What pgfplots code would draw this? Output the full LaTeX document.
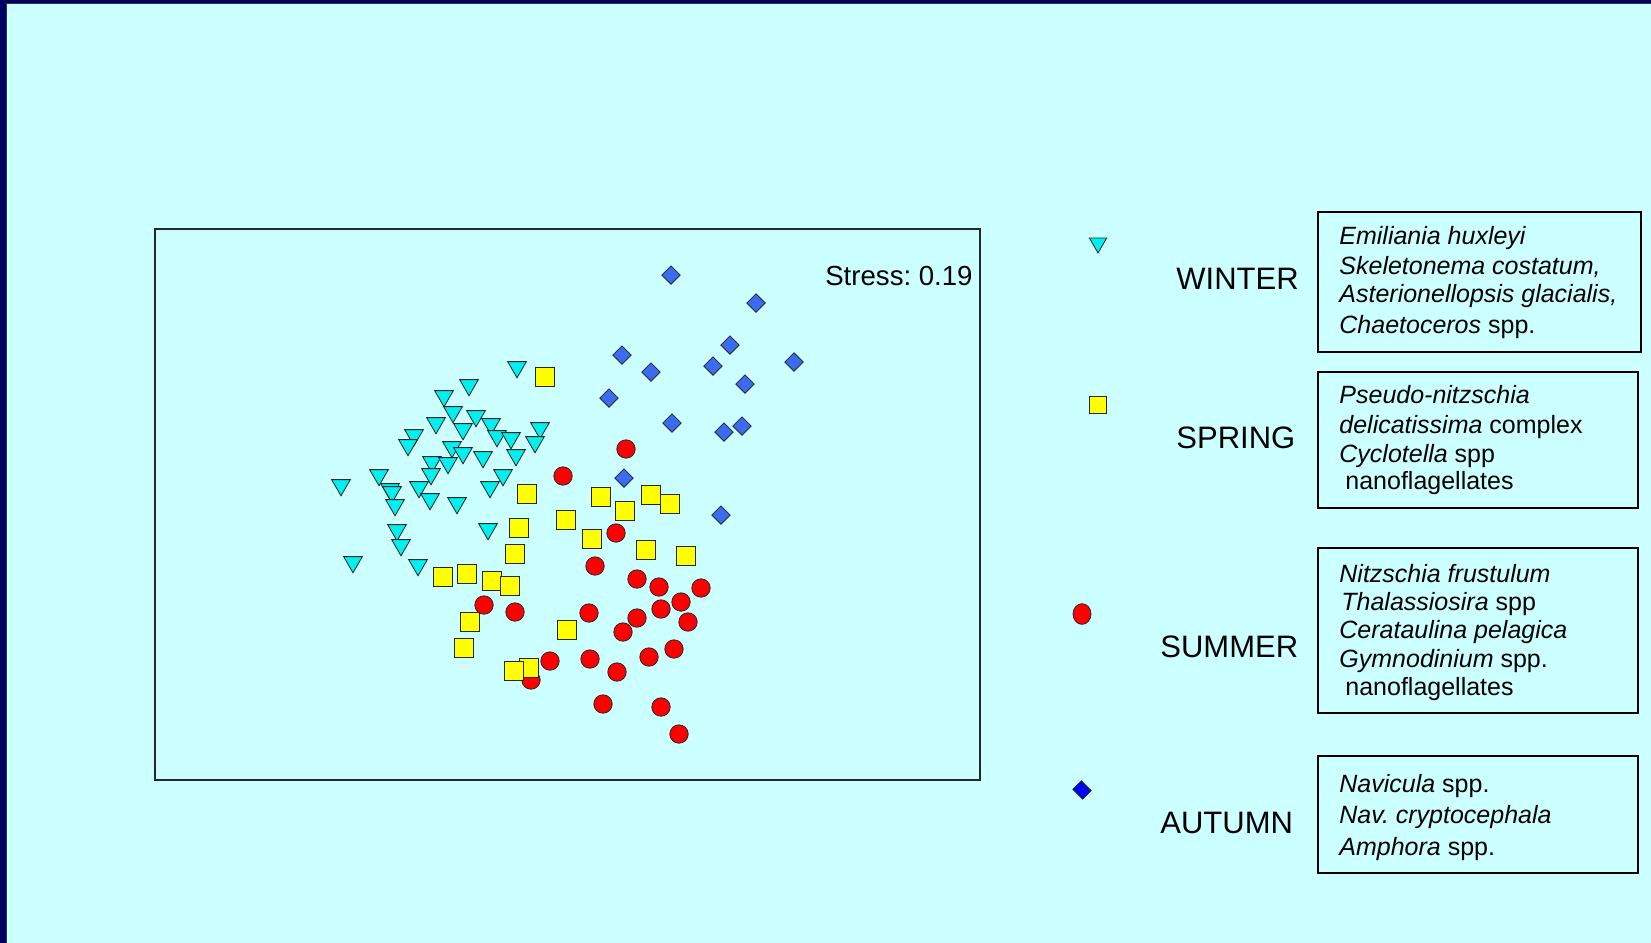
\documentclass[border=0pt]{standalone}
\usepackage{pgfplots}
\pgfplotsset{compat=1.18}
\usepackage{fontspec}
\setmainfont{Liberation Sans}
\frenchspacing

\definecolor{bgcyan}{RGB}{204,255,255}
\definecolor{navy}{RGB}{0,0,100}
\definecolor{wint}{RGB}{0,240,240}
\definecolor{spri}{RGB}{255,255,0}
\definecolor{summ}{RGB}{255,0,0}
\definecolor{autu}{RGB}{58,107,240}
\definecolor{autuleg}{RGB}{0,0,255}

% MDS ordination scores, one table per season (screen units, y downwards)
\pgfplotstableread{
x y
517 367
469 385
444 396
453 412
476 416
436 423
491 424
463 429
414 435
497 436
511 438
540 428
535 442
408 445
452 447
463 453
483 457
516 455
432 462
448 463
431 474
379 475
503 475
341 485
390 489
392 492
419 487
490 487
395 505
430 499
457 503
488 529
397 530
401 545
353 562
418 565
}\winter

\pgfplotstableread{
x y
545 377
527 494
601 497
651 495
670 504
625 511
566 520
519 528
592 539
646 550
686 556
515 554
443 577
467 574
492 581
510 586
470 622
567 630
464 648
529 668
514 671
}\spring

\pgfplotstableread{
x y
626 449
563 476
616 533
595 566
637 579
659 587
701 588
681 602
661 609
637 618
688 622
484 605
515 612
589 613
623 632
674 649
649 657
590 659
550 661
617 672
531 680
603 704
661 707
679 734
}\summer

\pgfplotstableread{
x y
671 275
756 303
730 345
622 355
651 372
713 366
794 362
745 384
609 398
672 423
724 432
742 426
624 478
721 515
}\autumn

\begin{document}
\begin{tikzpicture}
\useasboundingbox (0,0) rectangle (825.5pt,-471.5pt);
% slide background with dark frame at top and left
\fill[navy] (0,0) rectangle (825.5pt,-471.5pt);
\fill[black!80] (3pt,-1.5pt) rectangle (825.5pt,-471.5pt);
\fill[bgcyan] (3.5pt,-2pt) rectangle (825.5pt,-471.5pt);

% ordination plot
\begin{axis}[
  at={(77.5pt,-114.5pt)}, anchor=north west,
  scale only axis, width=412.5pt, height=275.5pt,
  xmin=155, xmax=980, ymin=229, ymax=780, y dir=reverse,
  xtick=\empty, ytick=\empty,
  axis line style={black!85, line width=0.7pt},
  only marks,
]
\addplot[mark=triangle*, mark size=5.4pt,
  mark options={rotate=180, fill=wint, draw=black!85, line width=0.4pt}]
  table {\winter};
\addplot[mark=*, mark size=4.6pt,
  mark options={fill=summ, draw=black!85, line width=0.4pt}]
  table {\summer};
\addplot[mark=square*, mark size=4.6pt,
  mark options={fill=spri, draw=black!85, line width=0.4pt}]
  table {\spring};
\addplot[mark=square*, mark size=3.25pt,
  mark options={rotate=45, fill=autu, draw=black!85, line width=0.4pt}]
  table {\autumn};
\node[anchor=base east, inner sep=0pt, font=\fontsize{13.8}{16}\selectfont]
  at (axis cs:973,285) {Stress: 0.19};
\end{axis}

% key: season symbols, names and characteristic taxa
\begin{axis}[
  at={(0pt,0pt)}, anchor=north west,
  scale only axis, width=825.5pt, height=471.5pt,
  xmin=0, xmax=1651, ymin=0, ymax=943, y dir=reverse,
  hide axis, clip=false, only marks,
]
\addplot[mark=triangle*, mark size=5pt,
  mark options={rotate=180, fill=wint, draw=black!85, line width=0.4pt}]
  coordinates {(1098,243)};
\addplot[mark=square*, mark size=4.3pt,
  mark options={fill=spri, draw=black!85, line width=0.4pt}]
  coordinates {(1098,405)};
\addplot[mark=*, mark size=4.5pt,
  mark options={fill=summ, draw=black!85, line width=0.4pt, yscale=1.15}]
  coordinates {(1082,614)};
\addplot[mark=square*, mark size=3.0pt,
  mark options={rotate=45, fill=autuleg, draw=black!85, line width=0.4pt, yscale=1.15}]
  coordinates {(1082,790)};

\begin{scope}[every node/.style={anchor=base west, inner sep=0pt,
    font=\fontsize{15.5}{18}\selectfont}]
\node at (axis cs:1176,289) {WINTER};
\node at (axis cs:1176,448) {SPRING};
\node at (axis cs:1160,657) {SUMMER};
\node at (axis cs:1160,833) {AUTUMN};
\end{scope}

\begin{scope}[black, line width=0.8pt]
\draw (axis cs:1318,212) rectangle (axis cs:1641,352);
\draw (axis cs:1318,372) rectangle (axis cs:1638,508);
\draw (axis cs:1318,548) rectangle (axis cs:1638,713);
\draw (axis cs:1318,756) rectangle (axis cs:1638,873);
\end{scope}

\begin{scope}[every node/.style={anchor=base west, inner sep=0pt,
    font=\fontsize{12.5}{15}\selectfont}]
\node at (axis cs:1339,244) {\textit{Emiliania huxleyi}};
\node at (axis cs:1339,274) {\textit{Skeletonema costatum,}};
\node at (axis cs:1339,302) {\textit{Asterionellopsis glacialis,}};
\node at (axis cs:1339,333) {\textit{Chaetoceros} spp.};

\node at (axis cs:1339,403) {\textit{Pseudo-nitzschia}};
\node at (axis cs:1339,433) {\textit{delicatissima} complex};
\node at (axis cs:1339,462) {\textit{Cyclotella} spp};
\node at (axis cs:1345,489) {nanoflagellates};

\node at (axis cs:1339,582) {\textit{Nitzschia frustulum}};
\node at (axis cs:1341,610) {\textit{Thalassiosira} spp};
\node at (axis cs:1339,638) {\textit{Cerataulina pelagica}};
\node at (axis cs:1339,667) {\textit{Gymnodinium} spp.};
\node at (axis cs:1345,695) {nanoflagellates};

\node at (axis cs:1339,792) {\textit{Navicula} spp.};
\node at (axis cs:1339,823) {\textit{Nav. cryptocephala}};
\node at (axis cs:1339,855) {\textit{Amphora} spp.};
\end{scope}
\end{axis}
\end{tikzpicture}
\end{document}
